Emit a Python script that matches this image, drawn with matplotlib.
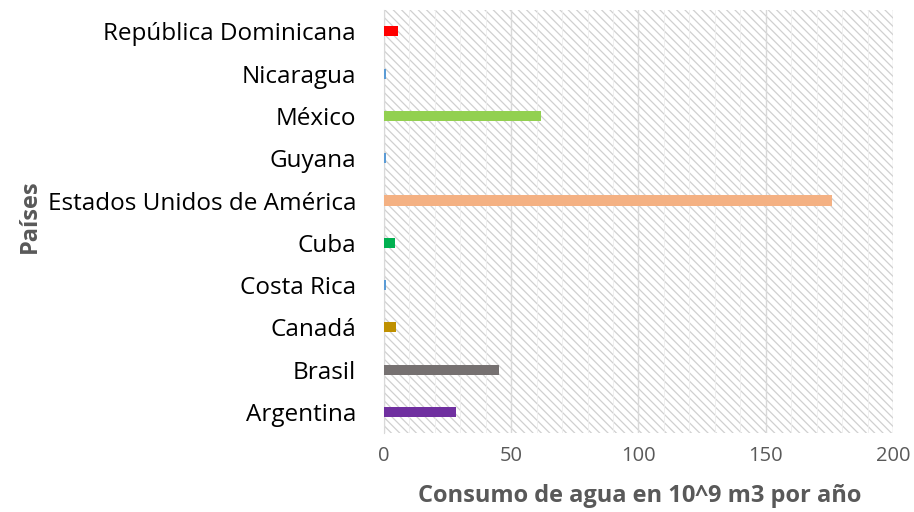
import matplotlib
matplotlib.use("Agg")
import matplotlib.pyplot as plt
import numpy as np

paises = ["Argentina", "Brasil", "Canadá", "Costa Rica", "Cuba",
          "Estados Unidos de América", "Guyana", "México", "Nicaragua",
          "República Dominicana"]
consumo = [28.2, 45.2, 4.6, 0.8, 4.4, 175.9, 0.8, 61.7, 0.8, 5.4]
colores = ["#7030A0", "#767171", "#BF9000", "#5B9BD5", "#00B050",
           "#F4B183", "#5B9BD5", "#92D050", "#5B9BD5", "#FF0000"]
xticks = [0, 50, 100, 150, 200]

plt.rcParams['font.family'] = ['Open Sans', 'DejaVu Sans']
plt.rcParams['hatch.color'] = '#d0d0d0'
plt.rcParams['hatch.linewidth'] = 0.9

fig = plt.figure(figsize=(9.14, 5.12), dpi=100)
ax = fig.add_axes([0.42, 0.154, 0.557, 0.826])

ax.patch.set_facecolor('white')
ax.patch.set_hatch('\\\\\\\\')
ax.patch.set_edgecolor('#d0d0d0')

y = np.arange(len(paises))
ax.barh(y, consumo, height=0.24, color=colores, zorder=3)

ax.set_xlim(0, 200)
ax.set_ylim(-0.5, len(paises) - 0.5)
ax.set_xticks(xticks)
ax.set_xticks(np.arange(0, 201, 10), minor=True)
ax.grid(axis='x', which='major', color='#d9d9d9', linewidth=1, zorder=1)
ax.grid(axis='x', which='minor', color='#eeeeee', linewidth=0.6, zorder=1)
ax.set_axisbelow(True)

ax.set_yticks(y)
ax.set_yticklabels(paises, fontsize=17.5, color='black')
ax.tick_params(axis='y', length=0, pad=20)
ax.tick_params(axis='x', which='both', length=0, pad=9, labelsize=14.5, labelcolor='#595959')

for s in ['top', 'right', 'bottom']:
    ax.spines[s].set_visible(False)
ax.spines['left'].set_color('#d9d9d9')

ax.set_xlabel("Consumo de agua en 10^9 m3 por año", fontsize=17, fontweight='bold',
              color='#595959')
ax.xaxis.set_label_coords(0.502, -0.12)
ax.set_ylabel("Países", fontsize=17, fontweight='bold', color='#595959')
ax.yaxis.set_label_coords(-0.671, 0.512)

fig.savefig("out.png", dpi=100)
